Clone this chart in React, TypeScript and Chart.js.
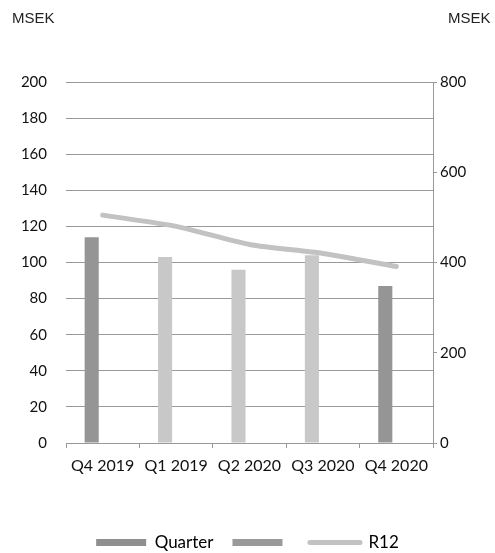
import React, { useEffect, useRef } from "react";
import { Chart, registerables } from "chart.js";

Chart.register(...registerables);

const categories = ["Q4 2019", "Q1 2019", "Q2 2020", "Q3 2020", "Q4 2020"];
const quarterValues = [114, 103, 96, 104, 87];
const quarterColors = ["#959595", "#c8c8c8", "#c8c8c8", "#c8c8c8", "#959595"];
const r12Values = [505, 480, 440, 420, 391];
const leftTicks = { min: 0, max: 200, step: 20 };
const rightTicks = { min: 0, max: 800, step: 200 };
const unitLabel = "MSEK";

const FONT = "Lato, 'DejaVu Sans', sans-serif";

export default function App() {
  const ref = useRef<HTMLCanvasElement | null>(null);

  useEffect(() => {
    if (!ref.current) return;
    const chart = new Chart(ref.current, {
      type: "bar",
      data: {
        labels: categories,
        datasets: [
          {
            type: "bar",
            label: "Quarter",
            data: quarterValues,
            backgroundColor: quarterColors,
            yAxisID: "y",
            order: 2,
            categoryPercentage: 0.6,
            barPercentage: 0.64,
          },
          {
            type: "bar",
            label: "",
            data: categories.map(() => null),
            backgroundColor: "#999999",
            yAxisID: "y",
            order: 3,
            categoryPercentage: 0.6,
            barPercentage: 0.64,
          },
          {
            type: "line",
            label: "R12",
            data: r12Values,
            yAxisID: "y1",
            borderColor: "#c2c2c2",
            borderWidth: 5,
            borderCapStyle: "round",
            borderJoinStyle: "round",
            pointRadius: 0,
            tension: 0.25,
            order: 1,
          },
        ],
      } as any,
      options: {
        responsive: false,
        animation: false,
        layout: { padding: { top: 82, left: 0, right: 0, bottom: -8 } },
        plugins: {
          tooltip: { enabled: false },
          legend: {
            position: "bottom",
            labels: {
              usePointStyle: true,
              pointStyleWidth: 50,
              boxWidth: 50,
              boxHeight: 7,
              padding: 19,
              color: "#111",
              font: { family: FONT, size: 17 },
              generateLabels: (c: any) => {
                return c.data.datasets.map((ds: any, i: number) => {
                  const isLine = ds.type === "line";
                  return {
                    text: ds.label,
                    datasetIndex: i,
                    pointStyle: isLine ? "line" : "rect",
                    fillStyle: isLine ? "#c2c2c2" : i === 0 ? "#8f8f8f" : "#999999",
                    strokeStyle: isLine ? "#c2c2c2" : "rgba(0,0,0,0)",
                    lineWidth: isLine ? 5 : 0,
                    lineCap: isLine ? "round" : "butt",
                    hidden: false,
                  };
                });
              },
            },
          },
        },
        scales: {
          x: {
            offset: true,
            grid: {
              display: true,
              drawOnChartArea: false,
              drawTicks: true,
              tickLength: 5,
              color: "#999",
              offset: true,
            },
            border: { display: true, color: "#999", width: 1 },
            ticks: {
              color: "#111",
              font: { family: FONT, size: 16 },
              padding: 8,
              maxRotation: 0,
              autoSkip: false,
            },
            afterFit: (s: any) => {
              s.height = 72;
            },
          },
          y: {
            position: "left",
            min: leftTicks.min,
            max: leftTicks.max,
            grid: { color: "#999", lineWidth: 1, drawTicks: false },
            border: { display: false },
            ticks: {
              stepSize: leftTicks.step,
              color: "#111",
              font: { family: FONT, size: 15 },
              padding: 19,
            },
            afterFit: (s: any) => {
              s.width = 66;
            },
          },
          y1: {
            position: "right",
            min: rightTicks.min,
            max: rightTicks.max,
            grid: {
              drawOnChartArea: false,
              drawTicks: true,
              tickLength: 4,
              color: "#999",
            },
            border: { display: true, color: "#999", width: 1 },
            ticks: {
              stepSize: rightTicks.step,
              color: "#111",
              font: { family: FONT, size: 15 },
              padding: 3,
            },
            afterFit: (s: any) => {
              s.width = 62;
            },
          },
        },
      } as any,
    });
    return () => chart.destroy();
  }, []);

  const labelStyle: React.CSSProperties = {
    position: "absolute",
    top: 9,
    fontFamily: "'Liberation Sans', Arial, sans-serif",
    fontSize: 15,
    color: "#222",
    margin: 0,
  };

  return (
    <div style={{ position: "fixed", left: 0, top: 0, width: 495, height: 553, background: "#fff" }}>
      <canvas ref={ref} width={495} height={553} style={{ position: "absolute", left: 0, top: 0 }} />
      <div style={{ ...labelStyle, left: 12 }}>{unitLabel}</div>
      <div style={{ ...labelStyle, left: 448 }}>{unitLabel}</div>
    </div>
  );
}
